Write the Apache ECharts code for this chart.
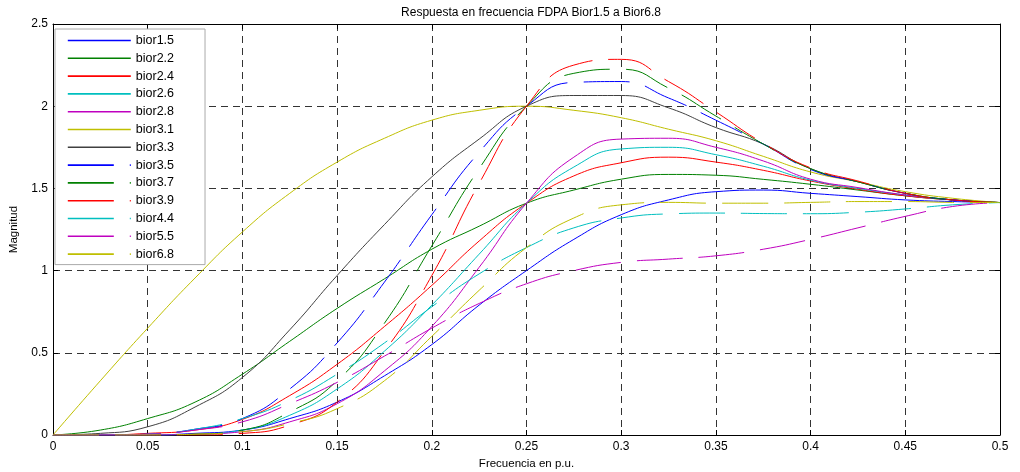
<!DOCTYPE html>
<html><head><meta charset="utf-8">
<script src="https://cdn.jsdelivr.net/npm/echarts@6/dist/echarts.min.js"></script>
<style>html,body{margin:0;padding:0;background:#fff}#c{width:1020px;height:472px}</style>
</head><body><div id="c"></div>
<script>
// Frequency axis (p.u.)
const freq = [0,0.025,0.05,0.075,0.1,0.125,0.15,0.175,0.2,0.225,0.25,0.275,0.3,0.325,0.35,0.375,0.4,0.425,0.45,0.475,0.5];
const xTicks = ['0','0.05','0.1','0.15','0.2','0.25','0.3','0.35','0.4','0.45','0.5'];
const yTicks = ['0','0.5','1','1.5','2','2.5'];
const names = ['bior1.5','bior2.2','bior2.4','bior2.6','bior2.8','bior3.1','bior3.3','bior3.5','bior3.7','bior3.9','bior4.4','bior5.5','bior6.8'];

// Magnitudes
const bior1_5 = [0,0,0,0.01,0.03,0.10,0.20,0.36,0.55,0.79,1.0,1.19,1.34,1.43,1.48,1.49,1.47,1.45,1.43,1.42,1.414];
const bior2_2 = [0,0.03,0.10,0.20,0.37,0.57,0.77,0.95,1.13,1.27,1.41,1.49,1.556,1.585,1.58,1.555,1.525,1.49,1.455,1.43,1.414];
const bior2_4 = [0,0,0.01,0.03,0.095,0.24,0.43,0.66,0.91,1.18,1.41,1.576,1.656,1.69,1.66,1.61,1.545,1.495,1.455,1.43,1.414];
const bior2_6 = [0,0,0,0.005,0.03,0.12,0.28,0.51,0.79,1.10,1.41,1.63,1.74,1.75,1.705,1.635,1.55,1.50,1.46,1.43,1.414];
const bior2_8 = [0,0,0,0.005,0.02,0.08,0.19,0.39,0.66,1.02,1.41,1.69,1.80,1.805,1.75,1.667,1.556,1.505,1.46,1.43,1.414];
const bior3_1 = [0,0.33,0.65,0.955,1.235,1.47,1.66,1.805,1.915,1.975,2.0,1.975,1.93,1.86,1.79,1.695,1.60,1.54,1.48,1.44,1.414];
const bior3_3 = [0,0.01,0.05,0.17,0.35,0.64,0.97,1.28,1.57,1.80,2.0,2.065,2.065,1.99,1.87,1.77,1.62,1.54,1.47,1.43,1.414];
const bior3_5 = [0,0,0.005,0.035,0.10,0.28,0.56,0.93,1.34,1.72,2.0,2.145,2.15,2.05,1.915,1.77,1.615,1.54,1.47,1.43,1.414];
const bior3_7 = [0,0,0,0.005,0.03,0.14,0.33,0.68,1.15,1.62,2.0,2.20,2.225,2.11,1.94,1.77,1.62,1.54,1.47,1.43,1.414];
const bior3_9 = [0,0,0,0,0.01,0.06,0.20,0.51,0.97,1.53,2.0,2.25,2.285,2.15,1.965,1.775,1.625,1.545,1.47,1.43,1.414];
const bior4_4 = [0,0,0.005,0.035,0.10,0.21,0.37,0.56,0.78,0.98,1.14,1.26,1.32,1.345,1.35,1.347,1.346,1.355,1.375,1.40,1.414];
const bior5_5 = [0,0,0.005,0.03,0.08,0.19,0.32,0.48,0.65,0.80,0.92,1.0,1.05,1.07,1.09,1.13,1.19,1.26,1.33,1.39,1.414];
const bior6_8 = [0,0,0,0.005,0.02,0.07,0.16,0.33,0.60,0.88,1.14,1.32,1.40,1.415,1.41,1.41,1.415,1.42,1.42,1.415,1.414];

const values = [bior1_5,bior2_2,bior2_4,bior2_6,bior2_8,bior3_1,bior3_3,bior3_5,bior3_7,bior3_9,bior4_4,bior5_5,bior6_8];
const colors = ['#0000ff','#008000','#ff0000','#00bfbf','#bf00bf','#bfbf00','#404040','#0000ff','#008000','#ff0000','#00bfbf','#bf00bf','#bfbf00'];
const dashed = [false,false,false,false,false,false,false,true,true,true,true,true,true];

const FONT = 'Liberation Sans, Arial, sans-serif';
const chart = echarts.init(document.getElementById('c'), null, {renderer:'canvas'});
const series = names.map((n,i)=>({
  name:n, type:'line', symbol:'none', showSymbol:false, smooth:0.5,
  data: freq.map((f,j)=>[f, values[i][j]]),
  lineStyle:{width:1, color:colors[i], type: dashed[i] ? [46,16] : 'solid'},
  itemStyle:{color:colors[i]},
  emphasis:{disabled:true}, animation:false
}));
const gridDash = {color:'#333', width:1, type:[7,5]};
chart.setOption({
  animation:false,
  backgroundColor:'#fff',
  title:{text:'Respuesta en frecuencia FDPA Bior1.5 a Bior6.8', left:526, top:2, textAlign:'center',
    textStyle:{fontSize:12, fontWeight:'normal', color:'#000', fontFamily:FONT}},
  grid:{left:53, right:20, top:24, bottom:37, show:false, containLabel:false, outerBoundsMode:'none'},
  legend:{orient:'vertical', left:55, top:29, itemWidth:63, itemHeight:14, itemGap:4.8,
    padding:[5,31,4,12], backgroundColor:'#fff', borderColor:'#aaa', borderWidth:1, borderRadius:0,
    itemStyle:{color:'transparent', borderWidth:0, opacity:0},
    lineStyle:{width:1.6},
    textStyle:{fontSize:12.5, color:'#000', fontFamily:FONT}, data:names, selectedMode:false},
  xAxis:[{type:'value', min:0, max:0.5, interval:0.05,
    axisLine:{lineStyle:{color:'#000', width:1}},
    axisTick:{inside:true, length:5, lineStyle:{color:'#000'}},
    axisLabel:{color:'#000', fontSize:12, margin:6, fontFamily:FONT,
      formatter:(v)=>xTicks[Math.round(v/0.05)]},
    splitLine:{show:true, lineStyle:gridDash},
    name:'Frecuencia en p.u.', nameLocation:'middle', nameGap:22,
    nameTextStyle:{fontSize:11.5, color:'#000', fontFamily:FONT}},
   {type:'value', position:'top', min:0, max:0.5, interval:0.05,
    axisLine:{onZero:false, lineStyle:{color:'#000', width:1}},
    axisTick:{inside:true, length:5, lineStyle:{color:'#000'}},
    axisLabel:{show:false}, splitLine:{show:false}}],
  yAxis:[{type:'value', min:0, max:2.5, interval:0.5,
    axisLine:{show:true, lineStyle:{color:'#000', width:1}},
    axisTick:{show:true, inside:true, length:5, lineStyle:{color:'#000'}},
    axisLabel:{color:'#000', fontSize:12, margin:5, fontFamily:FONT,
      formatter:(v)=>yTicks[Math.round(v/0.5)]},
    splitLine:{show:true, lineStyle:gridDash},
    name:'Magnitud', nameLocation:'middle', nameGap:33,
    nameTextStyle:{fontSize:11.5, color:'#000', fontFamily:FONT}},
   {type:'value', position:'right', min:0, max:2.5, interval:0.5,
    axisLine:{show:true, onZero:false, lineStyle:{color:'#000', width:1}},
    axisTick:{show:true, inside:true, length:5, lineStyle:{color:'#000'}},
    axisLabel:{show:false}, splitLine:{show:false}}],
  series: series
});
</script>
</body></html>
